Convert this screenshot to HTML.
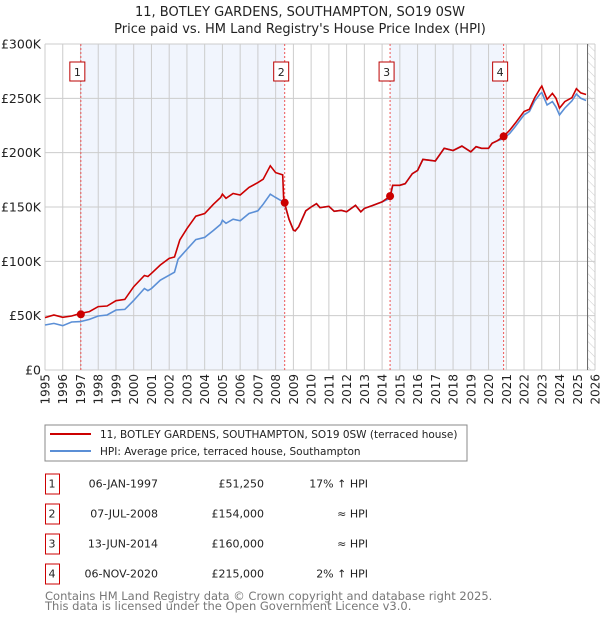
<!DOCTYPE html>
<html><head><meta charset="utf-8">
<style>
body{margin:0;background:#fff;font-family:"DejaVu Sans","Liberation Sans",sans-serif;}
svg text{font-family:"DejaVu Sans","Liberation Sans",sans-serif;}
</style></head>
<body>
<svg id="c" width="600" height="620" xmlns="http://www.w3.org/2000/svg">
<defs><pattern id="hatch" width="6" height="6" patternUnits="userSpaceOnUse" patternTransform="rotate(-45)"><line x1="0" y1="0" x2="0" y2="6" stroke="#ccc" stroke-width="1"/></pattern></defs>
<text x="300" y="16" text-anchor="middle" font-size="13" fill="#222">11, BOTLEY GARDENS, SOUTHAMPTON, SO19 0SW</text>
<text x="300" y="33" text-anchor="middle" font-size="13" fill="#222">Price paid vs. HM Land Registry's House Price Index (HPI)</text>
<g id="plot"></g>
<rect x="45" y="425" width="422" height="36" fill="#fff" stroke="#888"/>
<line x1="50" y1="434" x2="91" y2="434" stroke="#cc0000" stroke-width="2"/>
<text x="100" y="438" font-size="10.5" fill="#222">11, BOTLEY GARDENS, SOUTHAMPTON, SO19 0SW (terraced house)</text>
<line x1="50" y1="451" x2="91" y2="451" stroke="#5b8fd6" stroke-width="2"/>
<text x="100" y="455" font-size="10.5" fill="#222">HPI: Average price, terraced house, Southampton</text>
<g id="table" font-size="11" fill="#222"></g>
<text x="45" y="600" font-size="11.5" fill="#777">Contains HM Land Registry data © Crown copyright and database right 2025.</text>
<text x="45" y="610" font-size="11.5" fill="#777">This data is licensed under the Open Government Licence v3.0.</text>
</svg>
<script>
const hpiYears=[1995,1995.5,1996,1996.5,1997,1997.5,1998,1998.5,1999,1999.5,2000,2000.6,2000.8,2001,2001.5,2002,2002.3,2002.5,2003,2003.5,2004,2004.5,2004.9,2005,2005.2,2005.6,2006,2006.5,2007,2007.3,2007.7,2008,2008.4,2008.5,2008.75,2009,2009.1,2009.3,2009.7,2010,2010.3,2010.5,2011,2011.3,2011.7,2012,2012.5,2012.8,2013,2013.5,2014,2014.45,2014.6,2015,2015.3,2015.7,2016,2016.3,2016.7,2017,2017.5,2018,2018.5,2019,2019.3,2019.6,2020,2020.2,2020.5,2020.85,2021.2,2021.5,2022,2022.3,2022.6,2022.9,2023,2023.3,2023.6,2023.8,2024,2024.3,2024.7,2024.95,2025.2,2025.5];
const hpiValues=[41.4,42.9,40.8,44.2,44.5,46.6,49.7,50.6,55.2,55.8,64,75,73,75,82.6,87.2,90,102,111,120,122,128.5,134,137.8,135,138.8,137.3,144,146.5,152.6,161.8,158.7,155,152.6,138.8,128.7,128,131.9,146.5,150,153,149.4,150.6,146,147,145.6,151.6,145.6,148.7,151.6,154.7,158,170,170,171.4,180.6,183.7,193.8,193,192.3,204,202,206,200.8,205.5,204,204,208.6,211,213,217.8,224,234.8,238,247.6,254,255.4,244,247,242,234.8,241,247.6,254,250,248];
const propYears=[1995,1995.5,1996,1996.5,1997,1997.5,1998,1998.5,1999,1999.5,2000,2000.6,2000.8,2001,2001.5,2002,2002.3,2002.6,2003,2003.5,2004,2004.5,2004.9,2005,2005.2,2005.6,2006,2006.5,2007,2007.3,2007.7,2008,2008.4,2008.45,2008.5,2008.75,2009,2009.1,2009.3,2009.7,2010,2010.3,2010.5,2011,2011.3,2011.7,2012,2012.5,2012.8,2013,2013.5,2014,2014.45,2014.6,2015,2015.3,2015.7,2016,2016.3,2016.7,2017,2017.5,2018,2018.5,2019,2019.3,2019.6,2020,2020.2,2020.5,2020.85,2021.2,2021.5,2022,2022.3,2022.6,2022.9,2023,2023.3,2023.6,2023.8,2024,2024.3,2024.7,2024.95,2025.2,2025.5];
const propValues=[48.2,50.6,48.5,49.7,52.1,53.7,58.3,58.9,63.8,65,76.7,87,86,89,96.6,102.7,104,119.6,130,141.5,144,152.6,158.7,161.8,158,162.4,161,168,172.5,175.6,187.9,181.7,179.6,158.7,154,138.8,128.7,128,131.9,146.5,150,153,149.4,150.6,146,147,145.6,151.6,145.6,148.7,151.6,154.7,160,170,170,171.4,180.6,183.7,193.8,193,192.3,204,202,206,200.8,205.5,204,204,208.6,211,215,220.8,227,237.9,240,250.6,258.9,261.3,249,254.5,250,241,247,250.6,258.9,255,253.5];
const saleLabels=["1","2","3","4"];
const saleYears=[1997.02,2008.51,2014.45,2020.85];
const saleValues=[51.25,154,160,215];
const saleDates=["06-JAN-1997","07-JUL-2008","13-JUN-2014","06-NOV-2020"];
const salePrices=["£51,250","£154,000","£160,000","£215,000"];
const saleHpi=["17% ↑ HPI","≈ HPI","≈ HPI","2% ↑ HPI"];
const yTicks=[0,50,100,150,200,250,300];
const yTickLabels=["£0","£50K","£100K","£150K","£200K","£250K","£300K"];
const xTicks=[1995,1996,1997,1998,1999,2000,2001,2002,2003,2004,2005,2006,2007,2008,2009,2010,2011,2012,2013,2014,2015,2016,2017,2018,2019,2020,2021,2022,2023,2024,2025,2026];
const dataEnd=2025.58;

const X0=45,X1=595,Y0=370,Y1=44;
const xs=y=>X0+(y-1995)/(2026-1995)*(X1-X0);
const ys=v=>Y0-v/300*(Y0-Y1);
const NS="http://www.w3.org/2000/svg";
const plot=document.getElementById('plot');
function mk(tag,attrs,parent){const e=document.createElementNS(NS,tag);for(const k in attrs)e.setAttribute(k,attrs[k]);(parent||plot).appendChild(e);return e;}

for(let i=0;i<saleYears.length;i+=2){
  const r=mk('rect',{x:xs(saleYears[i]),y:Y1,width:xs(saleYears[i+1])-xs(saleYears[i]),height:Y0-Y1,fill:'#eef3fc',opacity:0.8});
  
  
}
const hr=mk('rect',{x:xs(dataEnd),y:Y1,width:X1-xs(dataEnd),height:Y0-Y1,fill:'url(#hatch)'});


xTicks.forEach(t=>{
  const l=mk('line',{x1:xs(t),x2:xs(t),y1:Y1,y2:Y0,stroke:'#ccc','stroke-width':1});
  
  
  const tx=mk('text',{x:0,y:0,'font-size':12,fill:'#222','text-anchor':'end',transform:`translate(${xs(t)+4.5},374) rotate(-90)`});
  tx.textContent=t;
  
  
});
yTicks.forEach((t,i)=>{
  const l=mk('line',{x1:X0,x2:X1,y1:ys(t),y2:ys(t),stroke:'#ccc','stroke-width':1});
  
  
  const tx=mk('text',{x:41,y:ys(t)+4.5,'font-size':12.5,fill:'#222','text-anchor':'end'});
  tx.textContent=yTickLabels[i];
  
  
});
const dl=mk('line',{x1:xs(dataEnd),x2:xs(dataEnd),y1:Y1,y2:Y0,stroke:'#666','stroke-width':1});


saleYears.forEach(y=>{
  const l=mk('line',{x1:xs(y),x2:xs(y),y1:Y1,y2:Y0,stroke:'#e55','stroke-width':1,'stroke-dasharray':'2,2'});
  
  
});
function pts(a,b){return a.map((y,i)=>xs(y).toFixed(1)+','+ys(b[i]).toFixed(1)).join(' ');}
const hl=mk('polyline',{points:pts(hpiYears,hpiValues),fill:'none',stroke:'#5b8fd6','stroke-width':1.6});


const pl=mk('polyline',{points:pts(propYears,propValues),fill:'none',stroke:'#cc0000','stroke-width':1.6});


saleYears.forEach((y,i)=>{
  const c=mk('circle',{cx:xs(y),cy:ys(saleValues[i]),r:4,fill:'#cc0000'});
  
  
  const bx=mk('rect',{x:xs(y)-11,y:62,width:15,height:19,fill:'#fff',stroke:'#b00','stroke-width':1});
  
  
  const t=mk('text',{x:xs(y)-3.5,y:76,'font-size':11,fill:'#222','text-anchor':'middle'});
  t.textContent=saleLabels[i];
  
  
});
const tb=document.getElementById('table');
saleLabels.forEach((lab,i)=>{
  const cy=483+i*30;
  const b=mk('rect',{x:45.5,y:cy-9,width:14,height:20,fill:'#fff',stroke:'#c00','stroke-width':1},tb);
  
  
  const cells=[[lab,52,'middle'],[saleDates[i],158,'end'],[salePrices[i],264,'end'],[saleHpi[i],368,'end']];
  cells.forEach((c,j)=>{
    const t=mk('text',{x:c[1],y:cy+4.5,'text-anchor':c[2],'font-size':11,fill:'#222'},tb);
    t.textContent=c[0];
    
    
  });
});
</script>
</body></html>
